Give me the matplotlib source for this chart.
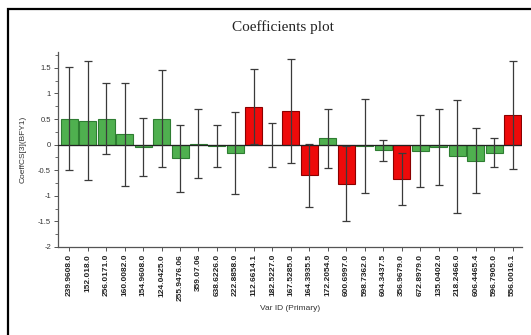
import matplotlib
matplotlib.use("Agg")
import matplotlib.pyplot as plt
from matplotlib.ticker import MultipleLocator
from matplotlib.patches import Rectangle
import numpy as np

var_ids = [
    "239.9608.0", "152.018.0", "256.0171.0", "160.0082.0", "154.9608.0",
    "124.0425.0", "255.9476.06", "359.07.06", "638.6226.0", "222.8858.0",
    "112.6614.1", "182.5227.0", "167.5285.0", "164.3935.5", "172.2054.0",
    "600.6997.0", "598.7362.0", "604.3437.5", "356.9679.0", "672.8979.0",
    "135.0402.0", "218.2466.0", "606.4465.4", "596.7905.0", "556.0016.1",
]
coefficients = [
    0.51, 0.47, 0.51, 0.20, -0.04, 0.51, -0.27, 0.02, -0.02, -0.16,
    0.74, 0.00, 0.66, -0.60, 0.12, -0.76, -0.02, -0.11, -0.67, -0.12,
    -0.04, -0.23, -0.31, -0.16, 0.58,
]
conf_int = [
    1.00, 1.17, 0.70, 1.01, 0.57, 0.94, 0.66, 0.68, 0.41, 0.80,
    0.73, 0.43, 1.02, 0.61, 0.58, 0.74, 0.92, 0.20, 0.50, 0.70,
    0.74, 1.10, 0.63, 0.28, 1.06,
]
flagged = [
    0, 0, 0, 0, 0, 0, 0, 0, 0, 0,
    1, 0, 1, 1, 0, 1, 0, 0, 1, 0,
    0, 0, 0, 0, 1,
]

green_fill, green_edge = "#4fb04f", "#2e7d32"
red_fill, red_edge = "#ee0a0a", "#8b0000"

fig = plt.figure(figsize=(5.31, 3.35), dpi=100)
fig.patch.set_facecolor("white")

# frame around the plot window (left and top edges)
fig.add_artist(Rectangle((8 / 531, -0.05), 1.2, 1 - 9 / 335 + 0.05,
                         transform=fig.transFigure, fill=False,
                         edgecolor="black", linewidth=1.6))

ax = fig.add_axes([58 / 531, 1 - 247 / 335, (522 - 58) / 531, (247 - 52) / 335])

x = np.arange(len(var_ids))
fills = [red_fill if f else green_fill for f in flagged]
edges = [red_edge if f else green_edge for f in flagged]
ax.bar(x, coefficients, width=0.92, color=fills, edgecolor=edges,
       linewidth=0.8, zorder=2)
ax.axhline(0, color="#222222", linewidth=0.9, zorder=3)
ax.errorbar(x, coefficients, yerr=conf_int, fmt="none", ecolor="#3a3a3a",
            elinewidth=0.9, capsize=2.6, capthick=0.9, zorder=4)

ax.set_xlim(-0.6, len(var_ids) - 0.5)
ax.set_ylim(-2, 1.81)
ax.yaxis.set_major_locator(MultipleLocator(0.5))
ax.yaxis.set_minor_locator(MultipleLocator(0.25))
ax.set_yticklabels([])
ax.set_yticks([-2, -1.5, -1, -0.5, 0, 0.5, 1, 1.5])
ax.set_yticklabels(["-2", "-1.5", "-1", "-0.5", "0", "0.5", "1", "1.5"],
                   fontsize=5.5, family="Liberation Sans", color="#333333")
ax.set_xticks(x)
ax.set_xticklabels(var_ids, rotation=90, fontsize=6, family="Liberation Sans",
                   color="#222222", fontweight="bold")

for side in ("top", "right"):
    ax.spines[side].set_visible(False)
for side in ("left", "bottom"):
    ax.spines[side].set_color("#555555")
    ax.spines[side].set_linewidth(0.9)
ax.tick_params(axis="both", which="major", length=3, width=0.7, color="#555555", pad=2)
ax.tick_params(axis="y", which="minor", length=2, width=0.6, color="#555555")

ax.set_xlabel("Var ID (Primary)", fontsize=6, family="Liberation Sans",
              color="#333333", labelpad=3)
ax.set_ylabel("CoeffCS[3](BFY1)", fontsize=6, family="Liberation Sans",
              color="#333333", labelpad=8)

fig.text(283 / 531, 1 - 27 / 335, "Coefficients plot", ha="center", va="center",
         fontsize=11, family="Liberation Serif", color="#222222")

fig.savefig("out.png", dpi=100, facecolor="white")
